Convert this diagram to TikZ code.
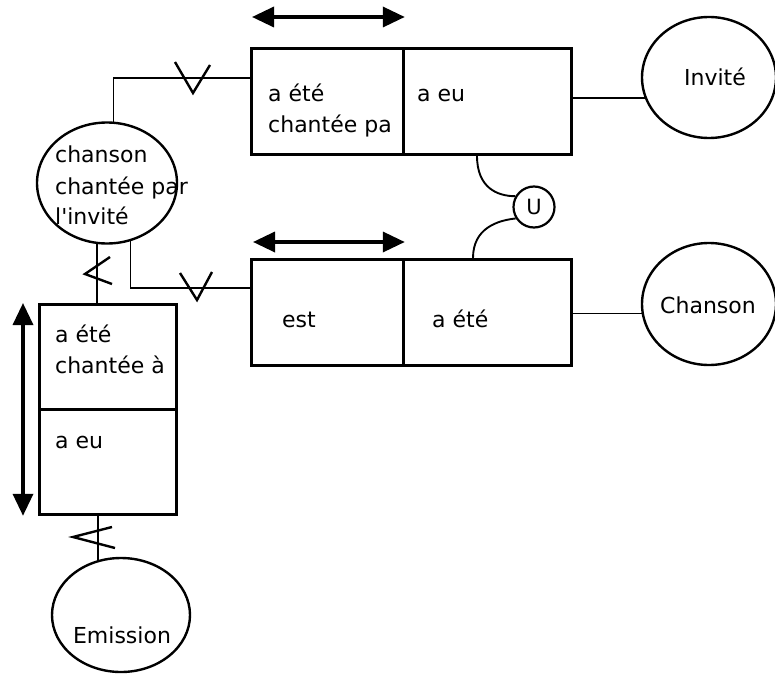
\documentclass[tikz,border=0pt]{standalone}
\usepackage{fontspec}
\setmainfont{DejaVu Sans}
\usetikzlibrary{arrows.meta,shapes.geometric,calc}
\begin{document}
\begin{tikzpicture}[x=1pt,y=-1pt,
  cell/.style={draw,line width=2.8pt,rectangle,inner sep=0pt,anchor=north west},
  ent/.style={draw,line width=2.4pt,ellipse,inner sep=0pt},
  lbl/.style={anchor=base west,inner sep=0pt,font=\fontsize{22}{26}\selectfont},
  clbl/.style={anchor=base,inner sep=0pt,font=\fontsize{22}{26}\selectfont},
  link/.style={line width=1.9pt},
  crowsign/.style={line width=2.4pt,line join=miter},
  dbl/.style={line width=3.5pt,{Triangle[length=22pt,width=20pt]}-{Triangle[length=22pt,width=20pt]}}
]
\useasboundingbox (0,0) rectangle (775,674);

% boxes
\node[cell,minimum width=152pt,minimum height=106pt] (c1) at (250,47) {};
\node[cell,minimum width=168pt,minimum height=106pt] (c2) at (402,47) {};
\node[cell,minimum width=152pt,minimum height=106pt] (c3) at (250,258) {};
\node[cell,minimum width=168pt,minimum height=106pt] (c4) at (402,258) {};
\node[cell,minimum width=137pt,minimum height=105pt] (b1) at (38,303) {};
\node[cell,minimum width=137pt,minimum height=105pt] (b2) at (38,408) {};

% entities
\node[ent,minimum width=140pt,minimum height=121pt] (ell1) at (107,183) {};
\node[ent,minimum width=134pt,minimum height=121pt] (inv) at (709,77.5) {};
\node[ent,minimum width=134pt,minimum height=122pt] (chs) at (709,304) {};
\node[ent,minimum width=138pt,minimum height=114pt] (em) at (121,615) {};
\node[draw,circle,line width=2.2pt,minimum size=41pt,inner sep=0pt,font=\fontsize{21}{24}\selectfont] (u) at (534,207) {U};

% texts
\node[lbl] (t1a) at (268,102) {a été};
\node[lbl] (t1b) at (268,132) {chantée pa};
\node[lbl] (t2) at (417,102) {a eu};
\node[lbl] (t3) at (282,327) {est};
\node[lbl] (t4) at (432,327) {a été};
\node[lbl] (t5a) at (55,342) {a été};
\node[lbl] (t5b) at (55,373) {chantée à};
\node[lbl] (t6) at (55,448) {a eu};
\node[lbl] (e1a) at (55,162) {chanson};
\node[lbl] (e1b) at (55,194) {chantée par};
\node[lbl] (e1c) at (55,224) {l\textquotesingle invité};
\node[clbl] (ti) at (715,85) {Invité};
\node[clbl] (tc) at (708,313) {Chanson};
\node[clbl] (te) at (122,643) {Emission};

% connectors
\draw[link] (ell1.84) |- (c1.west |- 0,78);
\draw[link] (ell1.-68) |- (c3.west |- 0,288);
\draw[link] (ell1.-99) -- (ell1.-99 |- b1.north);
\draw[link] (em.113) -- (em.113 |- b2.south);
\draw[link] (c2.east |- inv.198) -- (inv.198);
\draw[link] (c4.east |- chs.188) -- (chs.188);
\draw[link] ($(c2.south west)+(75,0)$) .. controls +(0,32) and +(-18,0) .. (u.150);
\draw[link] ($(c4.north west)+(71,0)$) .. controls +(0,-30) and +(-18,2) .. (u.212);

% cardinality signs
\draw[crowsign] (175,62) -- (193,93) -- (210,65);
\draw[crowsign] (180,273) -- (197,300) -- (212,272);
\draw[crowsign] (110,257) -- (85,274) -- (112,284);
\draw[crowsign] (112,527) -- (73,537) -- (115,548);

% double arrows
\draw[dbl] ($(c1.north west)+(2,-30)$) -- ($(c1.north east)+(0,-30)$);
\draw[dbl] ($(c3.north west)+(3,-16)$) -- ($(c3.north east)+(0,-16)$);
\draw[dbl] ($(b1.north west)+(-15,0)$) -- ($(b2.south west)+(-15,0)$);
\end{tikzpicture}
\end{document}
